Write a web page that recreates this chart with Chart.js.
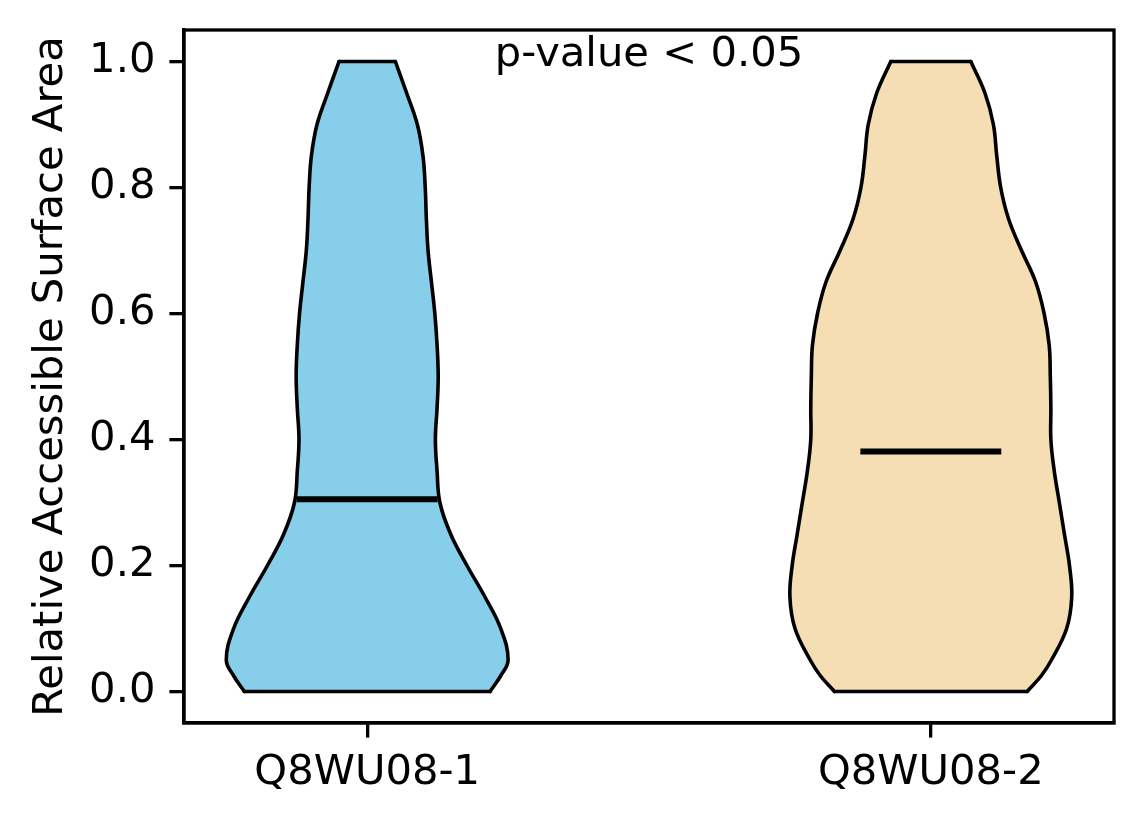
<!DOCTYPE html>
<html>
<head>
<meta charset="utf-8">
<script src="https://cdn.jsdelivr.net/npm/chart.js@4.4.0/dist/chart.umd.min.js"></script>
<style>
  html, body { margin: 0; padding: 0; background: #fff; }
  canvas { display: block; }
</style>
</head>
<body>
<canvas id="violinChart" width="1144" height="824"></canvas>
<script>
// groups and summary values
const groups = ["Q8WU08-1", "Q8WU08-2"];
const positions = [1, 2];
const medians = [0.305, 0.381];
const colors = ["#87CEEB", "#F5DEB3"];
const yTicks = [0.0, 0.2, 0.4, 0.6, 0.8, 1.0];
const annotationText = "p-value < 0.05";

// violin outlines: value levels and half widths (x units)
const levels = [0.0, 0.025, 0.05, 0.10, 0.15, 0.20, 0.25, 0.30, 0.35, 0.40, 0.45,
                0.50, 0.55, 0.60, 0.65, 0.70, 0.75, 0.80, 0.85, 0.90, 0.95, 1.0];
const halfWidths1 = [0.218, 0.237, 0.250, 0.237, 0.209, 0.177, 0.148, 0.129, 0.124, 0.121, 0.124,
                     0.126, 0.124, 0.120, 0.114, 0.108, 0.105, 0.103, 0.099, 0.089, 0.070, 0.050];
const halfWidths2 = [0.171, 0.196, 0.214, 0.241, 0.250, 0.246, 0.237, 0.228, 0.219, 0.213, 0.213,
                     0.212, 0.210, 0.201, 0.186, 0.161, 0.138, 0.124, 0.117, 0.111, 0.096, 0.071];

const violins = [halfWidths1, halfWidths2];

const FONT = "'DejaVu Sans', sans-serif";
const FONT_SIZE = 41.7;
const edge = { borderColor: "#000", borderWidth: 3.6, pointRadius: 0, borderCapStyle: "round", borderJoinStyle: "round" };

const datasets = [];
violins.forEach((widths, i) => {
  const pos = positions[i];
  const last = levels.length - 1;
  datasets.push({
    ...edge,
    data: levels.map((y, k) => ({ x: pos - widths[k], y })),
    fill: "+1",
    backgroundColor: colors[i],
    tension: 0.4
  });
  datasets.push({
    ...edge,
    data: levels.map((y, k) => ({ x: pos + widths[k], y })),
    fill: false,
    tension: 0.4
  });
  // flat ends of the violin
  datasets.push({
    ...edge,
    data: [{ x: pos - widths[last], y: levels[last] }, { x: pos + widths[last], y: levels[last] }],
    fill: false
  });
  datasets.push({
    ...edge,
    data: [{ x: pos - widths[0], y: levels[0] }, { x: pos + widths[0], y: levels[0] }],
    fill: false
  });
  // median bar
  datasets.push({
    data: [{ x: pos - 0.125, y: medians[i] }, { x: pos + 0.125, y: medians[i] }],
    borderColor: "#000",
    borderWidth: 6,
    borderCapStyle: "butt",
    pointRadius: 0,
    fill: false
  });
});

const frameAndText = {
  id: "frameAndText",
  afterDraw(chart) {
    const { ctx, chartArea: a, scales } = chart;
    ctx.save();
    ctx.strokeStyle = "#000";
    ctx.lineWidth = 3.3;
    ctx.strokeRect(a.left, a.top, a.right - a.left, a.bottom - a.top);
    ctx.fillStyle = "#000";
    ctx.font = FONT_SIZE + "px " + FONT;
    ctx.textAlign = "center";
    ctx.textBaseline = "alphabetic";
    ctx.fillText(annotationText, scales.x.getPixelForValue(1.5), scales.y.getPixelForValue(0.9925));
    ctx.restore();
  }
};

new Chart(document.getElementById("violinChart"), {
  type: "line",
  data: { datasets },
  plugins: [frameAndText],
  options: {
    indexAxis: "y",
    responsive: false,
    animation: false,
    events: [],
    layout: { padding: { top: 30, right: 30, left: 0, bottom: 0 } },
    plugins: {
      legend: { display: false },
      tooltip: { enabled: false },
      filler: { drawTime: "beforeDatasetsDraw" }
    },
    scales: {
      x: {
        type: "linear",
        position: "bottom",
        min: 0.675,
        max: 2.325,
        afterBuildTicks: scale => { scale.ticks = positions.map(p => ({ value: p })); },
        afterFit: scale => {
          scale.height = 101;
          scale.paddingLeft = 0;
          scale.paddingRight = 0;
        },
        ticks: {
          color: "#000",
          font: { family: FONT, size: FONT_SIZE },
          padding: 11,
          maxRotation: 0,
          callback: value => groups[positions.indexOf(value)]
        },
        grid: { display: true, drawOnChartArea: false, drawTicks: true, tickLength: 14.6, color: "#000", lineWidth: 3.3 },
        border: { display: true, color: "#000", width: 3.3 }
      },
      y: {
        type: "linear",
        min: -0.05,
        max: 1.05,
        afterBuildTicks: scale => { scale.ticks = yTicks.map(v => ({ value: v })); },
        afterFit: scale => {
          scale.width = 184;
          scale.paddingTop = 0;
          scale.paddingBottom = 0;
        },
        ticks: {
          color: "#000",
          font: { family: FONT, size: FONT_SIZE },
          padding: 14,
          callback: value => value.toFixed(1)
        },
        grid: { display: true, drawOnChartArea: false, drawTicks: true, tickLength: 14.6, color: "#000", lineWidth: 3.3 },
        border: { display: true, color: "#000", width: 3.3 },
        title: {
          display: true,
          text: "Relative Accessible Surface Area",
          color: "#000",
          font: { family: FONT, size: FONT_SIZE, lineHeight: 1.2 },
          padding: { top: 26, bottom: 0 }
        }
      }
    }
  }
});
</script>
</body>
</html>
